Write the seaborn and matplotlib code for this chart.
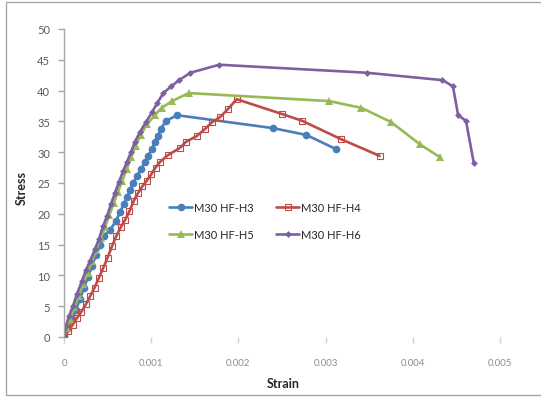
import matplotlib
matplotlib.use("Agg")
import matplotlib.pyplot as plt
from matplotlib.patches import Rectangle
import seaborn as sns

sns.set_style("white")
plt.rcParams["font.family"] = ["Lato", "DejaVu Sans"]

# Stress-strain readings for each specimen
h3_strain = [0, 0.000046, 0.000092, 0.000138, 0.000183, 0.000229, 0.000275, 0.000321,
             0.000367, 0.000413, 0.000459, 0.000528, 0.000596, 0.000642, 0.000688, 0.000722,
             0.000757, 0.000791, 0.000837, 0.000883, 0.000929, 0.000963, 0.00101, 0.00104,
             0.00108, 0.00111, 0.00117, 0.00130, 0.00240, 0.00278, 0.00312]
h3_stress = [0, 1.5, 2.9, 4.4, 6.2, 8.0, 9.7, 11.5, 13.3, 14.9, 16.4, 17.4, 18.8, 20.3, 21.6,
             22.7, 23.9, 25.0, 26.1, 27.3, 28.4, 29.4, 30.5, 31.7, 32.6, 33.8, 35.1, 36.0,
             33.9, 32.8, 30.5]

h4_strain = [0, 0.00005, 0.00010, 0.00015, 0.00020, 0.00025, 0.00030, 0.00035, 0.00040,
             0.00045, 0.00050, 0.00055, 0.00060, 0.00065, 0.00070, 0.00075, 0.00080, 0.00085,
             0.00090, 0.00095, 0.00100, 0.00105, 0.00110, 0.00119, 0.00133, 0.00140, 0.00152,
             0.00162, 0.00170, 0.00179, 0.00188, 0.00198, 0.00250, 0.00273, 0.00318, 0.00362]
h4_stress = [0, 1.0, 2.0, 3.1, 4.1, 5.3, 6.6, 8.0, 9.6, 11.2, 12.9, 14.7, 16.4, 17.8, 19.0,
             20.4, 22.1, 23.4, 24.5, 25.4, 26.4, 27.5, 28.4, 29.5, 30.7, 31.7, 32.6, 33.8,
             34.9, 35.7, 37.0, 38.6, 36.2, 35.1, 32.1, 29.4]

h5_strain = [0, 0.00003, 0.00007, 0.00012, 0.00017, 0.00022, 0.00027, 0.00032, 0.00037,
             0.00042, 0.00047, 0.00052, 0.00057, 0.00062, 0.00067, 0.00072, 0.00077, 0.00082,
             0.00088, 0.00095, 0.00104, 0.00112, 0.00124, 0.00143, 0.00304, 0.00341, 0.00375,
             0.00408, 0.00431]
h5_stress = [0, 1.5, 3.0, 4.8, 6.7, 8.6, 10.4, 12.3, 14.2, 16.0, 17.8, 19.8, 21.7, 23.6, 25.4,
             27.3, 29.2, 31.0, 32.8, 34.5, 36.0, 37.2, 38.3, 39.6, 38.3, 37.2, 34.9, 31.3, 29.2]

h6_strain = [0, 0.000023, 0.000057, 0.000103, 0.000149, 0.000206, 0.000252, 0.000298,
             0.000356, 0.000401, 0.000447, 0.000493, 0.000539, 0.000585, 0.000631, 0.000677,
             0.000722, 0.000768, 0.000814, 0.000872, 0.00094, 0.00101, 0.00107, 0.00114,
             0.00123, 0.00132, 0.00145, 0.00178, 0.00347, 0.00434, 0.00446, 0.00452, 0.00461,
             0.00470]
h6_stress = [0, 1.8, 3.4, 5.0, 7.0, 9.1, 10.9, 12.3, 14.3, 15.9, 18.0, 19.6, 21.6, 23.4, 25.2,
             26.9, 28.4, 30.0, 31.7, 33.3, 34.9, 36.5, 38.0, 39.6, 40.7, 41.7, 42.9, 44.2,
             42.9, 41.7, 40.7, 36.0, 35.1, 28.2]

labels = ["M30 HF-H3", "M30 HF-H4", "M30 HF-H5", "M30 HF-H6"]
x_ticks = [0, 0.001, 0.002, 0.003, 0.004, 0.005]
x_tick_labels = ["0", "0.001", "0.002", "0.003", "0.004", "0.005"]
y_ticks = [0, 5, 10, 15, 20, 25, 30, 35, 40, 45, 50]

fig = plt.figure(figsize=(5.41, 4.06), dpi=100)
W, H = 541, 406
ax = fig.add_axes([64 / W, 1 - 338 / H, (0.0055 * 87200) / W, (338 - 30) / H])

# outer chart frame
fig.patches.append(Rectangle((6 / W, 1 - 396 / H), 1.2, (396 - 3) / H,
                             transform=fig.transFigure, fill=False,
                             edgecolor="#a6a6a6", lw=1.0, zorder=0))

styles = [
    dict(color="#4a7ebb", marker="o", markersize=5.5, markeredgewidth=0),
    dict(color="#be4b48", marker="s", markersize=5.0, markerfacecolor="none",
         markeredgecolor="#be4b48", markeredgewidth=0.8),
    dict(color="#98b954", marker="^", markersize=6, markeredgewidth=0),
    dict(color="#7d60a0", marker="D", markersize=3.5, markeredgewidth=0),
]
series = [(h3_strain, h3_stress), (h4_strain, h4_stress),
          (h5_strain, h5_stress), (h6_strain, h6_stress)]

for (xs, ys), lab, st in zip(series, labels, styles):
    sns.lineplot(x=xs, y=ys, ax=ax, sort=False, estimator=None, linewidth=1.9,
                 label=lab, **st)
handles, labs = ax.get_legend_handles_labels()
ax.get_legend().remove()

ax.set_xlim(0, 0.0055)
ax.set_ylim(0, 50)
ax.set_xticks(x_ticks)
ax.set_xticklabels(x_tick_labels)
ax.set_yticks(y_ticks)

for s in ["top", "right", "bottom"]:
    ax.spines[s].set_visible(False)
ax.spines["left"].set_color("#a6a6a6")
ax.spines["left"].set_linewidth(1.0)

ax.tick_params(axis="y", direction="out", length=4, width=1, color="#a6a6a6",
               labelsize=8, labelcolor="#595959", pad=6, left=True)
ax.tick_params(axis="x", direction="out", length=4, width=1, color="#d0d0d0",
               labelsize=7, labelcolor="#8c8c8c", pad=11, bottom=True)

ax.set_xlabel("Strain", fontsize=9, fontweight="bold")
ax.set_ylabel("Stress", fontsize=9, fontweight="bold")
ax.xaxis.set_label_coords((283 - 64) / (0.0055 * 87200), -(378 - 338) / 308)
ax.yaxis.set_label_coords(-(64 - 28) / (0.0055 * 87200), (338 - 188) / 308)

order = [0, 2, 1, 3]
fig.legend([handles[i] for i in order], [labs[i] for i in order],
           ncol=2, frameon=False, fontsize=8, handlelength=2.1,
           handletextpad=0.15, columnspacing=2.0, labelspacing=1.45,
           loc="upper left", bbox_to_anchor=(159 / W, 1 - 193 / H))

fig.savefig("out.png", dpi=100)
